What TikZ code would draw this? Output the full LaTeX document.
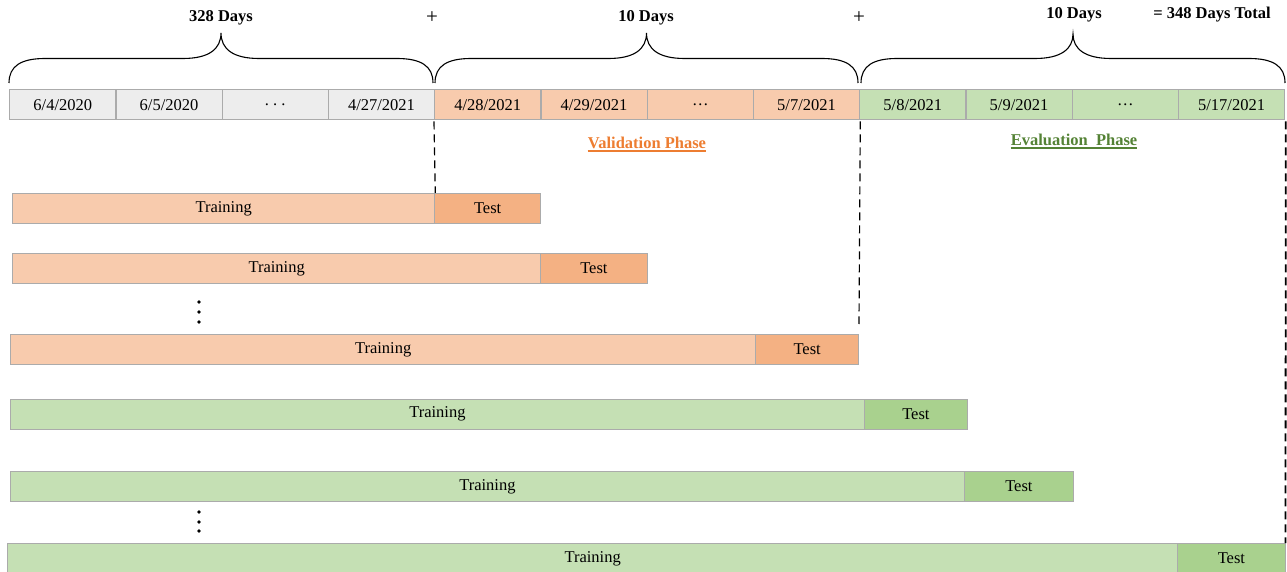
\documentclass[tikz,border=0pt]{standalone}
\usepackage{fontspec}
\setmainfont{Liberation Serif}
\definecolor{cellgray}{HTML}{EDEDED}
\definecolor{bord}{HTML}{ABABAB}
\definecolor{orL}{HTML}{F8CBAD}
\definecolor{orD}{HTML}{F4B183}
\definecolor{grL}{HTML}{C5E0B4}
\definecolor{grD}{HTML}{A9D18E}
\definecolor{valc}{HTML}{ED7D31}
\definecolor{evac}{HTML}{548235}
\newcommand\fsz{\fontsize{16.5}{19}\selectfont}
\newcommand\bfsz{\fontsize{16.5}{19}\selectfont\bfseries}
\newcommand\mycell[4]{\node[box, fill=#3, minimum width=106.25pt] (#1) at ({9+106.25*#2},89) {#4};}
\newcommand\splitrow[7]{%
  \node[box, fill=#6, minimum width={#4pt-#2pt}] (#1tr) at (#2,#3) {Training};
  \node[box, fill=#7, minimum width={#5pt-#4pt}] (#1te) at (#4,#3) {Test};}
\newcommand\mybrace[3]{%
  \draw[bracestyle] (#1,83) .. controls (#1,66) and ({#1+12},58.5) .. ({#1+36},58.5)
    -- ({(#1+#2)/2-38},58.5) .. controls ({(#1+#2)/2-12},58.5) and ({(#1+#2)/2},49) .. ({(#1+#2)/2},#3)
    .. controls ({(#1+#2)/2},49) and ({(#1+#2)/2+12},58.5) .. ({(#1+#2)/2+38},58.5)
    -- ({#2-36},58.5) .. controls ({#2-12},58.5) and (#2,66) .. (#2,83);}
\tikzset{
  box/.style={draw=bord, line width=1.3pt, inner sep=0pt, minimum height=30pt, anchor=north west, font=\fsz},
  lbl/.style={font=\bfsz, inner sep=1pt},
  plus/.style={font=\fontsize{21}{24}\selectfont, inner sep=1pt},
  bracestyle/.style={draw=black, line width=1.1pt},
  dashline/.style={draw=black, line width=1.2pt, dash pattern=on 8pt off 5pt},
  dotmark/.style={fill=black, draw=none}
}
\begin{document}
\begin{tikzpicture}[x=1pt, y=-1pt]
\useasboundingbox (0,0) rectangle (1287,572);
% date cells
\mycell{c1}{0}{cellgray}{6/4/2020}
\mycell{c2}{1}{cellgray}{6/5/2020}
\mycell{c3}{2}{cellgray}{.\ .\ .}
\mycell{c4}{3}{cellgray}{4/27/2021}
\mycell{c5}{4}{orL}{4/28/2021}
\mycell{c6}{5}{orL}{4/29/2021}
\mycell{c7}{6}{orL}{…}
\mycell{c8}{7}{orL}{5/7/2021}
\mycell{c9}{8}{grL}{5/8/2021}
\mycell{c10}{9}{grL}{5/9/2021}
\mycell{c11}{10}{grL}{…}
\mycell{c12}{11}{grL}{5/17/2021}
% braces
\mybrace{9}{433}{33}
\mybrace{435}{858}{33}
\mybrace{861}{1285}{34}
% top labels
\node[lbl] (d1) at (221,18) {328 Days};
\node[plus] (p1) at (432,18) {+};
\node[lbl] (d2) at (646,18) {10 Days};
\node[plus] (p2) at (859,18) {+};
\node[lbl] (d3) at (1074,15) {10 Days};
\node[lbl] (tot) at (1212,15) {= 348 Days Total};
% phase labels
\node[font=\bfsz, text=valc, inner sep=0pt, anchor=base] (val) at (647,148.5) {Validation Phase};
\draw[valc, line width=1.5pt] ([yshift=-2.5pt]val.base west) -- ([yshift=-2.5pt]val.base east);
\node[font=\bfsz, text=evac, inner sep=0pt, anchor=base] (eva) at (1074,145.5) {Evaluation\ \ Phase};
\draw[evac, line width=1.5pt] ([yshift=-2.5pt]eva.base west) -- ([yshift=-2.5pt]eva.base east);
% rows
\splitrow{r1}{12}{193}{434}{540}{orL}{orD}
\splitrow{r2}{12}{253}{540}{646.5}{orL}{orD}
\splitrow{r3}{10}{334}{755}{858}{orL}{orD}
\splitrow{r4}{10}{398.5}{863.5}{967}{grL}{grD}
\splitrow{r5}{10}{471}{963.5}{1073}{grL}{grD}
\splitrow{r6}{7}{543}{1177}{1284.5}{grL}{grD}
% dots
\foreach \yy in {302,312,322,512,522,531} \fill[dotmark] (199,\yy) circle (1.8pt);
% dashed lines
\coordinate (m3) at (859,324);
\coordinate (m6) at (1285.5,543);
\draw[dashline] ([yshift=-1pt]c5.south west) -- (r1tr.north east);
\draw[dashline] ([yshift=-1pt]c8.south east) -- (m3);
\draw[dashline, line width=1.8pt] ([xshift=0.5pt,yshift=-1pt]c12.south east) -- (m6);
\end{tikzpicture}
\end{document}
